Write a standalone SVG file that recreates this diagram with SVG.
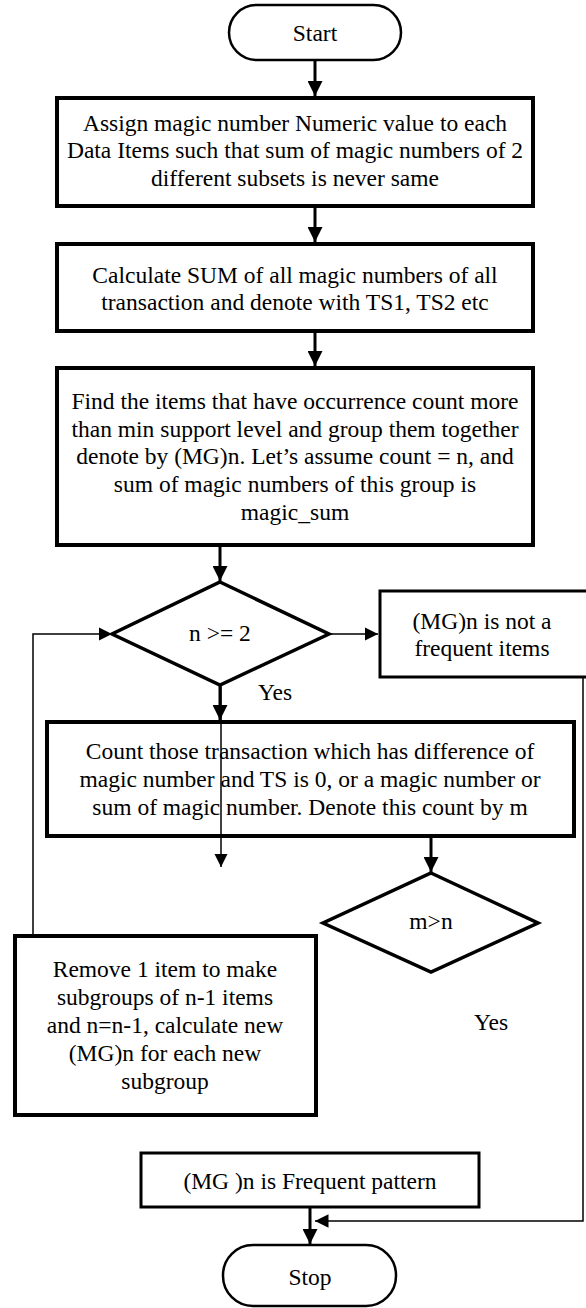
<svg xmlns="http://www.w3.org/2000/svg" width="586" height="1308" viewBox="0 0 586 1308">
<defs>
<marker id="ah" viewBox="0 0 10 10" refX="10" refY="5" markerWidth="5" markerHeight="5" markerUnits="strokeWidth" orient="auto"><path d="M0,0 L10,5 L0,10 z" fill="#000"/></marker>
<marker id="ahs" viewBox="0 0 10 10" refX="10" refY="5" markerWidth="9" markerHeight="9" markerUnits="strokeWidth" orient="auto"><path d="M0,0 L10,5 L0,10 z" fill="#000"/></marker>
</defs>
<style>
text{font-family:"Liberation Serif","Times New Roman",serif;font-size:23.5px;fill:#000;text-anchor:middle}
.box{fill:#fff;stroke:#000;stroke-width:4}
.box3{fill:#fff;stroke:#000;stroke-width:3}
.term{fill:#fff;stroke:#000;stroke-width:2.5}
.dia{fill:#fff;stroke:#000;stroke-width:3.5}
.thick{fill:none;stroke:#000;stroke-width:3;marker-end:url(#ah)}
.thin{fill:none;stroke:#000;stroke-width:1.5;marker-end:url(#ahs)}
</style>
<rect width="586" height="1308" fill="#fff"/>
<g id="start"><rect class="term" x="229" y="5" width="172" height="55" rx="27.5"/><text x="315" y="41">Start</text></g>
<g id="assign"><rect class="box" x="57" y="98" width="476" height="108"/>
<text x="295" y="131">Assign magic number Numeric value to each</text>
<text x="295" y="158">Data Items such that sum of magic numbers of 2</text>
<text x="295" y="186">different subsets is never same</text></g>
<g id="calc"><rect class="box" x="57" y="244" width="476" height="87"/>
<text x="295" y="283">Calculate SUM of all magic numbers of all</text>
<text x="295" y="310">transaction and denote with TS1, TS2 etc</text></g>
<g id="find"><rect class="box" x="57" y="368" width="476" height="177"/>
<text x="295" y="409">Find the items that have occurrence count more</text>
<text x="295" y="437">than min support level and group them together</text>
<text x="295" y="464">denote by (MG)n. Let’s assume count = n, and</text>
<text x="295" y="492">sum of magic numbers of this group is</text>
<text x="295" y="520">magic_sum</text></g>
<g id="cond1"><polygon class="dia" points="220,582 329,634 220,685 112,634"/><text x="220" y="641">n &gt;= 2</text></g>
<g id="notfreq"><rect class="box3" x="380" y="591" width="210" height="86"/>
<text x="482" y="629">(MG)n is not a</text>
<text x="482" y="656">frequent items</text></g>
<g id="count"><rect class="box" x="47" y="722" width="527" height="114"/>
<text x="310" y="759">Count those transaction which has difference of</text>
<text x="310" y="787">magic number and TS is 0, or a magic number or</text>
<text x="310" y="815">sum of magic number. Denote this count by m</text></g>
<g id="cond2"><polygon class="dia" points="431,873 538,923 431,972 323,923"/><text x="431" y="929">m&gt;n</text></g>
<g id="remove"><rect class="box" x="15" y="936" width="301" height="179"/>
<text x="165" y="977">Remove 1 item to make</text>
<text x="165" y="1005">subgroups of n-1 items</text>
<text x="165" y="1033">and n=n-1, calculate new</text>
<text x="165" y="1061">(MG)n for each new</text>
<text x="165" y="1089">subgroup</text></g>
<g id="freq"><rect class="box3" x="141" y="1153" width="338" height="54"/><text x="310" y="1189">(MG )n is Frequent pattern</text></g>
<g id="stop"><rect class="term" x="223" y="1245" width="173" height="61" rx="30"/><text x="310" y="1285">Stop</text></g>
<g id="labels"><text x="275" y="700">Yes</text><text x="491" y="1030">Yes</text></g>
<g id="connectors">
<line class="thick" x1="315" y1="60" x2="315" y2="96"/>
<line class="thick" x1="315" y1="206" x2="315" y2="242"/>
<line class="thick" x1="315" y1="331" x2="315" y2="366"/>
<line class="thick" x1="220" y1="545" x2="220" y2="581"/>
<line class="thin" x1="329" y1="634" x2="378" y2="634"/>
<line class="thick" x1="220" y1="685" x2="220" y2="720"/>
<line class="thin" x1="221" y1="685" x2="221" y2="867"/>
<line class="thick" x1="431" y1="836" x2="431" y2="872"/>
<polyline class="thin" points="33,936 33,634 112,634"/>
<polyline class="thin" points="583,677 583,1221 315,1221"/>
<line class="thick" x1="310" y1="1207" x2="310" y2="1244"/>
</g>
</svg>
